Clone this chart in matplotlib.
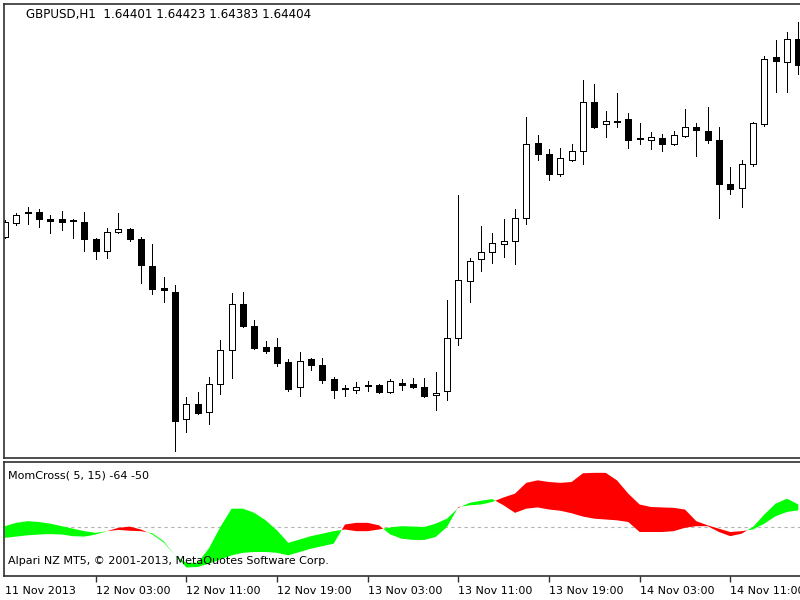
import matplotlib
matplotlib.use("Agg")
import matplotlib.pyplot as plt
import numpy as np

# ---------------- text ----------------
symbol_header = "GBPUSD,H1  1.64401 1.64423 1.64383 1.64404"
indicator_label = "MomCross( 5, 15) -64 -50"
copyright_text = "Alpari NZ MT5, \u00a9 2001-2013, MetaQuotes Software Corp."

# ---------------- GBPUSD H1 candles (11 Nov 19:00 .. 14 Nov 17:00) ----------------
opens = [1.59615, 1.59685, 1.59735, 1.59740, 1.59705, 1.59705, 1.59700, 1.59690, 1.59605, 1.59545,
         1.59640, 1.59655, 1.59605, 1.59470, 1.59360, 1.59340, 1.58705, 1.58780, 1.58740, 1.58880,
         1.59050, 1.59280, 1.59170, 1.59065, 1.59065, 1.58990, 1.58865, 1.59005, 1.58975, 1.58905,
         1.58860, 1.58850, 1.58870, 1.58875, 1.58840, 1.58885, 1.58880, 1.58865, 1.58825, 1.58845,
         1.59110, 1.59395, 1.59505, 1.59540, 1.59580, 1.59595, 1.59710, 1.60085, 1.60030, 1.59930,
         1.60000, 1.60045, 1.60290, 1.60180, 1.60195, 1.60205, 1.60110, 1.60100, 1.60110, 1.60080,
         1.60120, 1.60165, 1.60145, 1.60100, 1.59880, 1.59860, 1.59980, 1.60180, 1.60515, 1.60490,
         1.60605]
highs = [1.59700, 1.59735, 1.59765, 1.59755, 1.59725, 1.59745, 1.59705, 1.59740, 1.59610, 1.59660,
         1.59735, 1.59660, 1.59615, 1.59580, 1.59415, 1.59375, 1.58815, 1.58840, 1.58915, 1.59100,
         1.59335, 1.59340, 1.59200, 1.59095, 1.59110, 1.59005, 1.59040, 1.59010, 1.59010, 1.58915,
         1.58875, 1.58890, 1.58895, 1.58880, 1.58905, 1.58905, 1.58910, 1.58910, 1.58940, 1.59300,
         1.59825, 1.59510, 1.59670, 1.59635, 1.59705, 1.59755, 1.60215, 1.60125, 1.60055, 1.60060,
         1.60080, 1.60400, 1.60380, 1.60245, 1.60335, 1.60235, 1.60185, 1.60140, 1.60130, 1.60145,
         1.60255, 1.60185, 1.60265, 1.60165, 1.59965, 1.60000, 1.60190, 1.60520, 1.60600, 1.60640,
         1.60690]
lows = [1.59610, 1.59675, 1.59680, 1.59665, 1.59635, 1.59650, 1.59610, 1.59545, 1.59505, 1.59510,
        1.59635, 1.59595, 1.59385, 1.59330, 1.59290, 1.58545, 1.58640, 1.58730, 1.58680, 1.58830,
        1.58910, 1.59165, 1.59055, 1.59035, 1.58970, 1.58845, 1.58820, 1.58950, 1.58885, 1.58810,
        1.58820, 1.58835, 1.58845, 1.58835, 1.58835, 1.58850, 1.58860, 1.58815, 1.58750, 1.58800,
        1.59075, 1.59290, 1.59445, 1.59485, 1.59515, 1.59480, 1.59680, 1.60000, 1.59900, 1.59920,
        1.59995, 1.59980, 1.60160, 1.60115, 1.60165, 1.60060, 1.60080, 1.60055, 1.60045, 1.60075,
        1.60115, 1.60020, 1.60085, 1.59710, 1.59830, 1.59765, 1.59970, 1.60170, 1.60340, 1.60340,
        1.60430]
closes = [1.59690, 1.59725, 1.59740, 1.59705, 1.59695, 1.59690, 1.59695, 1.59605, 1.59545, 1.59640,
          1.59655, 1.59605, 1.59475, 1.59355, 1.59350, 1.58695, 1.58780, 1.58735, 1.58880, 1.59050,
          1.59280, 1.59170, 1.59060, 1.59045, 1.58985, 1.58855, 1.58995, 1.58975, 1.58900, 1.58850,
          1.58855, 1.58865, 1.58875, 1.58840, 1.58895, 1.58875, 1.58865, 1.58820, 1.58835, 1.59110,
          1.59400, 1.59495, 1.59540, 1.59585, 1.59595, 1.59710, 1.60080, 1.60030, 1.59930, 1.60010,
          1.60045, 1.60290, 1.60165, 1.60195, 1.60190, 1.60100, 1.60105, 1.60115, 1.60080, 1.60125,
          1.60165, 1.60150, 1.60100, 1.59880, 1.59855, 1.59980, 1.60185, 1.60505, 1.60495, 1.60605,
          1.60475]

# ---------------- MomCross indicator lines ----------------
mom_fast = [2, 10, 14, 12, 8, 2, -4, -10, -14, -10,
            -7, -9, -10, -15, -34, -68, -86, -86, -51, 0,
            44, 44, 34, 16, -8, -38, -30, -22, -16, -10,
            -6, -10, -10, -6, -1, 2, 1, 0, 8, 20,
            46, 58, 63, 67, 52, 34, 44, 47, 42, 39,
            33, 25, 20, 18, 16, 12, -12, -12, -12, -10,
            -2, 2, 2, -12, -22, -16, 0, 30, 56, 68,
            54]
mom_slow = [-26, -23, -20, -18, -17, -18, -22, -23, -18, -10,
            -2, 1, -6, -18, -37, -68, -97, -96, -88, -78,
            -68, -62, -60, -60, -62, -68, -60, -52, -46, -40,
            6, 10, 10, 4, -18, -28, -31, -31, -24, 0,
            48, 52, 54, 60, 71, 80, 106, 112, 108, 106,
            108, 129, 130, 130, 112, 80, 54, 48, 47, 46,
            42, 14, 4, -4, -12, -10, -6, 8, 26, 36,
            40]
level = 0

tick_bars = [0, 8, 16, 24, 32, 40, 48, 56, 64]
tick_labels = ["11 Nov 2013", "12 Nov 03:00", "12 Nov 11:00", "12 Nov 19:00",
               "13 Nov 03:00", "13 Nov 11:00", "13 Nov 19:00", "14 Nov 03:00",
               "14 Nov 11:00"]

# ---------------- layout ----------------
W, H = 800, 600
bar_px = 11.333
x0_px = 5.0
plt.rcParams['font.family'] = ['DejaVu Sans']
fig = plt.figure(figsize=(W / 100, H / 100), dpi=100)
fig.patch.set_facecolor('white')

left_px, right_px = 4, 808
xlim = ((left_px - x0_px) / bar_px, (right_px - x0_px) / bar_px)
ax1 = fig.add_axes([left_px / W, 1 - 458 / H, (right_px - left_px) / W, (458 - 4) / H])
ax2 = fig.add_axes([left_px / W, 1 - 576 / H, (right_px - left_px) / W, (576 - 462) / H])

spine_col = '#303030'
for ax in (ax1, ax2):
    ax.set_xlim(*xlim)
    ax.set_yticks([])
    for s in ax.spines.values():
        s.set_color(spine_col)
        s.set_linewidth(1.2)
    ax.spines['right'].set_visible(False)

# candles
O = np.array(opens); Hh = np.array(highs); L = np.array(lows); C = np.array(closes)
x = np.arange(len(O))
up = C >= O
ax1.vlines(x, L, Hh, color='black', linewidth=0.72, zorder=1, antialiased=False)
body_lo = np.minimum(O, C)
body_h = np.abs(C - O)
ax1.bar(x, body_h, bottom=body_lo, width=0.54,
        color=np.where(up, 'white', 'black'), edgecolor='black', linewidth=0.72,
        zorder=2, antialiased=False)
ax1.set_ylim(1.58510, 1.60780)
ax1.set_xticks([])

# indicator
A = np.array(mom_fast, dtype=float); B = np.array(mom_slow, dtype=float)
ax2.axhline(level, color='#b4b4b4', linewidth=0.8, linestyle=(0, (3, 3)), zorder=0)
ax2.fill_between(x, A, B, where=A >= B, interpolate=True, color='#00ff00',
                 linewidth=0, zorder=1)
ax2.fill_between(x, A, B, where=A < B, interpolate=True, color='#ff0000',
                 linewidth=0, zorder=1)
ax2.set_ylim(-117.6, 156)
ax2.set_xticks(tick_bars)
ax2.set_xticklabels(tick_labels, ha='left', fontsize=8, color='black')
ax2.tick_params(axis='x', direction='out', length=4, width=1, pad=3, color=spine_col)
ax2.xaxis.get_major_ticks()[0].tick1line.set_visible(False)

fig.text(26 / W, 1 - 14.5 / H, symbol_header, fontsize=8.6, va='center', ha='left')
fig.text(8 / W, 1 - 476 / H, indicator_label, fontsize=8, va='center', ha='left')
fig.text(8 / W, 1 - 561 / H, copyright_text, fontsize=8, va='center', ha='left', zorder=5)

fig.savefig('out.png', dpi=100, facecolor='white')
